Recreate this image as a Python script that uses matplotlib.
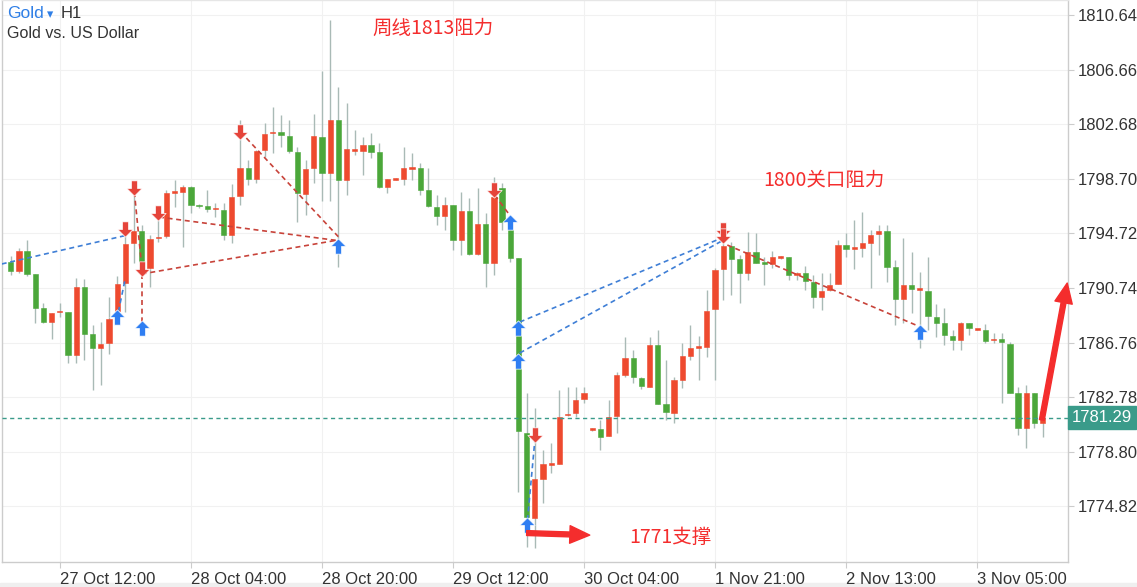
import matplotlib
matplotlib.use("Agg")
import matplotlib.pyplot as plt
from matplotlib.path import Path
from matplotlib.patches import FancyArrowPatch, Rectangle
import matplotlib.transforms as mtransforms
import numpy as np

# ---------------- data ----------------
opens = [1792.61, 1792.00, 1793.43, 1791.76, 1789.28, 1788.28, 1788.97, 1788.99, 1785.85, 1790.81,
         1787.38, 1786.37, 1786.73, 1789.06, 1791.10, 1794.02, 1794.89, 1792.20, 1794.38, 1794.53,
         1797.70, 1797.73, 1798.12, 1796.74, 1796.71, 1796.48, 1796.42, 1794.58, 1797.44, 1799.46,
         1798.66, 1800.80, 1802.01, 1802.11, 1801.82, 1800.63, 1797.59, 1799.46, 1801.77, 1799.10,
         1802.98, 1798.61, 1800.72, 1800.72, 1801.16, 1800.63, 1798.12, 1798.64, 1798.70, 1799.44,
         1799.46, 1797.88, 1796.62, 1796.01, 1796.79, 1794.24, 1796.35, 1793.22, 1795.38, 1792.58,
         1798.00, 1794.97, 1792.90, 1780.19, 1773.95, 1776.81, 1777.87, 1777.91, 1781.48, 1781.60,
         1782.62, 1780.42, 1780.44, 1779.95, 1781.43, 1784.40, 1785.61, 1784.20, 1783.54, 1786.58,
         1782.26, 1781.65, 1784.03, 1785.78, 1786.39, 1786.46, 1789.18, 1792.10, 1793.80, 1792.83,
         1791.81, 1793.38, 1792.65, 1792.46, 1792.95, 1792.97, 1791.69, 1791.85, 1791.17, 1790.06,
         1790.59, 1791.03, 1793.87, 1793.61, 1793.63, 1794.04, 1794.65, 1794.91, 1792.29, 1789.91,
         1790.96, 1790.62, 1790.54, 1788.65, 1788.16, 1787.26, 1786.95, 1788.16, 1787.71, 1787.68,
         1786.93, 1787.00, 1786.66, 1783.06, 1780.56, 1783.06, 1780.88]
highs = [1793.07, 1793.65, 1794.24, 1791.76, 1789.67, 1788.91, 1789.64, 1788.99, 1791.47, 1791.39,
         1788.04, 1788.26, 1790.08, 1791.61, 1795.18, 1797.52, 1795.33, 1794.60, 1796.28, 1797.88,
         1798.61, 1798.25, 1798.15, 1796.85, 1797.88, 1796.96, 1796.96, 1798.32, 1802.98, 1800.07,
         1800.80, 1802.77, 1803.95, 1803.35, 1802.98, 1801.04, 1800.07, 1803.42, 1806.55, 1810.27,
         1805.41, 1804.22, 1802.25, 1801.77, 1802.04, 1801.31, 1798.70, 1798.75, 1801.04, 1800.58,
         1799.85, 1799.48, 1797.52, 1797.39, 1796.79, 1797.76, 1797.28, 1798.00, 1796.18, 1798.85,
         1798.39, 1795.12, 1792.90, 1783.06, 1781.99, 1778.93, 1779.44, 1783.30, 1783.54, 1783.54,
         1783.54, 1780.52, 1781.12, 1782.57, 1784.64, 1787.19, 1786.22, 1784.25, 1787.19, 1787.68,
         1785.49, 1784.27, 1786.71, 1788.04, 1787.24, 1790.59, 1792.20, 1794.38, 1794.11, 1793.14,
         1794.84, 1794.72, 1793.00, 1793.46, 1793.05, 1792.99, 1791.90, 1792.34, 1791.69, 1791.85,
         1791.81, 1794.24, 1794.72, 1795.69, 1796.30, 1794.97, 1795.33, 1795.33, 1792.78, 1794.36,
         1793.38, 1791.93, 1793.02, 1789.57, 1789.26, 1787.68, 1788.28, 1788.20, 1787.78, 1788.11,
         1787.48, 1787.43, 1786.82, 1783.54, 1783.67, 1783.10, 1782.45]
lows = [1791.69, 1791.83, 1791.63, 1788.19, 1788.19, 1787.02, 1788.62, 1785.27, 1785.27, 1785.49,
        1783.30, 1783.67, 1785.93, 1788.91, 1788.99, 1792.56, 1792.05, 1790.81, 1794.09, 1794.38,
        1796.64, 1793.75, 1796.20, 1796.57, 1796.30, 1795.89, 1794.24, 1794.02, 1796.79, 1798.25,
        1798.41, 1800.31, 1800.56, 1801.04, 1800.56, 1795.57, 1796.06, 1798.37, 1797.10, 1797.10,
        1792.29, 1797.52, 1800.43, 1798.97, 1800.21, 1798.03, 1797.66, 1798.58, 1798.25, 1798.61,
        1797.52, 1796.64, 1795.33, 1794.97, 1793.51, 1793.14, 1793.14, 1793.14, 1790.83, 1791.69,
        1794.97, 1792.65, 1775.89, 1771.88, 1771.78, 1775.07, 1777.25, 1777.91, 1781.40, 1781.36,
        1782.36, 1780.30, 1778.93, 1779.95, 1780.15, 1784.27, 1783.79, 1783.35, 1783.50, 1782.28,
        1781.12, 1780.88, 1783.43, 1785.49, 1784.03, 1785.73, 1784.03, 1789.86, 1790.23, 1789.62,
        1791.32, 1792.54, 1790.96, 1792.17, 1792.88, 1791.32, 1791.32, 1790.59, 1789.26, 1789.13,
        1790.55, 1791.00, 1793.02, 1792.10, 1793.02, 1790.72, 1793.14, 1791.20, 1788.04, 1788.16,
        1788.89, 1786.34, 1787.68, 1787.19, 1786.58, 1786.22, 1786.22, 1787.31, 1787.68, 1786.75,
        1786.71, 1782.38, 1783.11, 1780.02, 1779.05, 1780.56, 1779.86]
closes = [1792.00, 1793.43, 1791.76, 1789.30, 1788.28, 1788.91, 1789.00, 1785.85, 1790.81, 1787.38,
          1786.37, 1786.66, 1788.48, 1791.03, 1793.94, 1794.89, 1792.63, 1794.31, 1794.45, 1797.66,
          1797.75, 1798.10, 1796.77, 1796.71, 1796.50, 1796.52, 1794.58, 1797.39, 1799.46, 1798.66,
          1800.75, 1801.96, 1802.13, 1801.87, 1800.70, 1797.64, 1799.39, 1801.82, 1799.10, 1802.98,
          1798.61, 1800.85, 1800.85, 1801.16, 1800.67, 1798.12, 1798.66, 1798.68, 1799.51, 1799.48,
          1797.88, 1796.71, 1796.01, 1796.79, 1794.24, 1796.35, 1793.19, 1795.38, 1792.58, 1797.39,
          1795.53, 1792.96, 1780.34, 1774.02, 1776.79, 1777.91, 1777.95, 1781.36, 1781.52, 1782.57,
          1783.06, 1780.46, 1779.90, 1781.36, 1784.40, 1785.61, 1784.23, 1783.60, 1786.58, 1782.28,
          1781.68, 1784.03, 1785.78, 1786.34, 1786.43, 1789.08, 1792.05, 1793.80, 1792.83, 1791.85,
          1793.38, 1792.58, 1792.46, 1792.97, 1792.99, 1791.69, 1791.85, 1791.27, 1790.06, 1790.54,
          1790.96, 1793.87, 1793.56, 1793.65, 1793.99, 1794.60, 1794.91, 1792.29, 1789.91, 1790.96,
          1790.64, 1790.66, 1788.70, 1788.21, 1787.31, 1786.95, 1788.16, 1787.80, 1787.75, 1786.90,
          1786.97, 1786.82, 1783.11, 1780.56, 1783.06, 1780.88, 1781.29]

x_tick_index = [6, 22, 38, 54, 70, 86, 102, 118]
x_tick_labels = ["27 Oct 12:00", "28 Oct 04:00", "28 Oct 20:00", "29 Oct 12:00",
                 "30 Oct 04:00", "1 Nov 21:00", "2 Nov 13:00", "3 Nov 05:00"]
y_ticks = [1774.82, 1778.80, 1782.78, 1786.76, 1790.74, 1794.72, 1798.70, 1802.68, 1806.66, 1810.64]
last_price = 1781.29

# trade signal markers: candle index, price, direction
sig_up_idx = [13, 16, 40, 61, 62, 62, 63, 111]
sig_up_price = [1788.59, 1787.79, 1793.80, 1795.55, 1787.82, 1785.42, 1773.46, 1787.53]
sig_dn_idx = [14, 15, 16, 18, 28, 59, 64, 87, 87]
sig_dn_price = [1795.04, 1798.06, 1792.12, 1796.24, 1802.11, 1797.88, 1780.02, 1794.97, 1794.53]

# dashed signal links: (i1, p1, i2, p2, kind)
link_x1 = [-1.1, 13.15, 15.1, 16.0, 18.1, 16.0, 28.05, 59.1, 62.15, 62.15, 63.1, 87.5]
link_p1 = [1792.49, 1789.01, 1797.73, 1791.76, 1795.91, 1791.76, 1802.13, 1797.52, 1788.26, 1786.00, 1773.83, 1793.87]
link_x2 = [13.9, 13.95, 16.0, 16.0, 40.0, 40.0, 40.0, 61.0, 86.8, 86.8, 64.0, 110.8]
link_p2 = [1794.55, 1791.32, 1792.27, 1788.19, 1794.19, 1794.24, 1794.48, 1795.99, 1794.38, 1794.16, 1779.66, 1787.97]
link_kind = ["b", "b", "r", "r", "r", "r", "r", "r", "b", "b", "b", "r"]

# annotations
notes = ["周线1813阻力", "1800关口阻力", "1771支撑"]
note_x = [51.6, 99.3, 80.6]
note_p = [1809.69, 1798.61, 1772.59]
arrow_h = (63.0, 1772.88, 70.7, 1772.73)
arrow_up = (125.9, 1781.12, 129.0, 1791.10)

# ---------------- style ----------------
RED = "#ee4a2f"
GREEN = "#4ba73a"
WICK = "#a9bab6"
SIG_RED = "#e5443a"
SIG_BLUE = "#2f7ef2"
ANN_RED = "#f42d2d"
TEAL = "#3a9b8a"
W, H = 1137, 587

fig = plt.figure(figsize=(W / 100, H / 100), dpi=100)
fig.patch.set_facecolor("white")
fig.add_artist(Rectangle((0, 0), 1, 4 / H, transform=fig.transFigure, color="#efefef", zorder=0))

ax = fig.add_axes([0.0015, 25 / H, 1066 / W, 562 / H])
ax.set_xlim(-1.10, 129.06)
ax.set_ylim(1770.77, 1811.73)

o = np.array(opens); h = np.array(highs); l = np.array(lows); c = np.array(closes)
idx = np.arange(len(o))
up = c >= o
colors = np.where(up, RED, GREEN)

ax.vlines(idx, l, h, color=WICK, lw=1.0, zorder=2)
bottoms = np.minimum(o, c)
heights = np.maximum(np.abs(c - o), 0.09)
ax.bar(idx, heights, bottom=bottoms, width=0.64, color=colors, edgecolor=colors, lw=0.4, zorder=3)

# grid
for t in y_ticks:
    ax.axhline(t, color="#f1f1f1", lw=0.8, zorder=0)
for t in x_tick_index:
    ax.axvline(t, color="#f1f1f1", lw=0.8, zorder=0)

# last price line
ax.axhline(last_price, color=TEAL, lw=1.0, ls=(0, (3, 2.5)), zorder=4)

# dashed links
for x1, p1, x2, p2, k in zip(link_x1, link_p1, link_x2, link_p2, link_kind):
    ax.plot([x1, x2], [p1, p2], color=("#3f7fd6" if k == "b" else "#c8433a"),
            lw=1.2, ls=(0, (3, 2.2)), zorder=5, clip_on=True)

# arrow markers
uv = [(0, 0.5), (0.5, 0.0), (0.2, 0.0), (0.2, -0.5), (-0.2, -0.5), (-0.2, 0.0), (-0.5, 0.0), (0, 0.5)]
codes = [Path.MOVETO] + [Path.LINETO] * 6 + [Path.CLOSEPOLY]
up_marker = Path(uv, codes)
dn_marker = Path([(x, -y) for x, y in uv], codes)
ax.plot(sig_up_idx, sig_up_price, ls="none", marker=up_marker, ms=11, color=SIG_BLUE,
        mec="white", mew=0.5, zorder=6)
ax.plot(sig_dn_idx, sig_dn_price, ls="none", marker=dn_marker, ms=11, color=SIG_RED,
        mec="white", mew=0.5, zorder=6)

# annotation texts
for t, x, p in zip(notes, note_x, note_p):
    ax.text(x, p, t, color=ANN_RED, fontsize=14, ha="center", va="center",
            family=["Noto Sans CJK SC", "DejaVu Sans"], zorder=7)

for (x1, p1, x2, p2) in (arrow_h, arrow_up):
    fa = FancyArrowPatch((x1, p1), (x2, p2), arrowstyle="simple,head_length=1.3,head_width=1.15,tail_width=0.32",
                         mutation_scale=11, color=ANN_RED, shrinkA=0, shrinkB=0, zorder=8, clip_on=False)
    ax.add_patch(fa)

# axes styling
for s in ax.spines.values():
    s.set_color("#cccccc")
    s.set_linewidth(1.0)
ax.spines["top"].set_color("#e6e6e6")

ax.yaxis.tick_right()
ax.set_yticks(y_ticks)
ax.set_yticklabels([f"{v:.2f}" for v in y_ticks])
ax.tick_params(axis="y", length=4, color="#cccccc", pad=3, labelsize=12, labelcolor="#333333")
ax.set_xticks(x_tick_index)
ax.set_xticklabels(x_tick_labels)
ax.tick_params(axis="x", length=4, color="#cccccc", pad=3, labelsize=12, labelcolor="#333333")
for lab in ax.get_xticklabels():
    lab.set_horizontalalignment("left")
for lab in ax.get_xticklabels() + ax.get_yticklabels():
    lab.set_family(["Liberation Sans", "DejaVu Sans"])

# last price label box
trans = mtransforms.blended_transform_factory(ax.transAxes, ax.transData)
ax.text(1.004, last_price, f"{last_price:.2f}", transform=trans, ha="left", va="center",
        fontsize=12, color="white", family=["Liberation Sans", "DejaVu Sans"], zorder=10,
        bbox=dict(boxstyle="square,pad=0.22", fc=TEAL, ec=TEAL), clip_on=False)

# header
fig.text(7 / W, 1 - 14 / H, "Gold", color="#2f7fe6", fontsize=12.5, va="center", ha="left",
         family=["Liberation Sans", "DejaVu Sans"])
fig.text(47 / W, 1 - 15 / H, "▾", color="#2f7fe6", fontsize=9, va="center", ha="left",
         family=["DejaVu Sans"])
fig.text(61 / W, 1 - 14 / H, "H1", color="#333333", fontsize=12, va="center", ha="left",
         family=["Liberation Sans", "DejaVu Sans"])
fig.text(7 / W, 1 - 34 / H, "Gold vs. US Dollar", color="#333333", fontsize=11.5, va="center",
         ha="left", family=["Liberation Sans", "DejaVu Sans"])

fig.savefig("out.png", dpi=100, facecolor="white")
